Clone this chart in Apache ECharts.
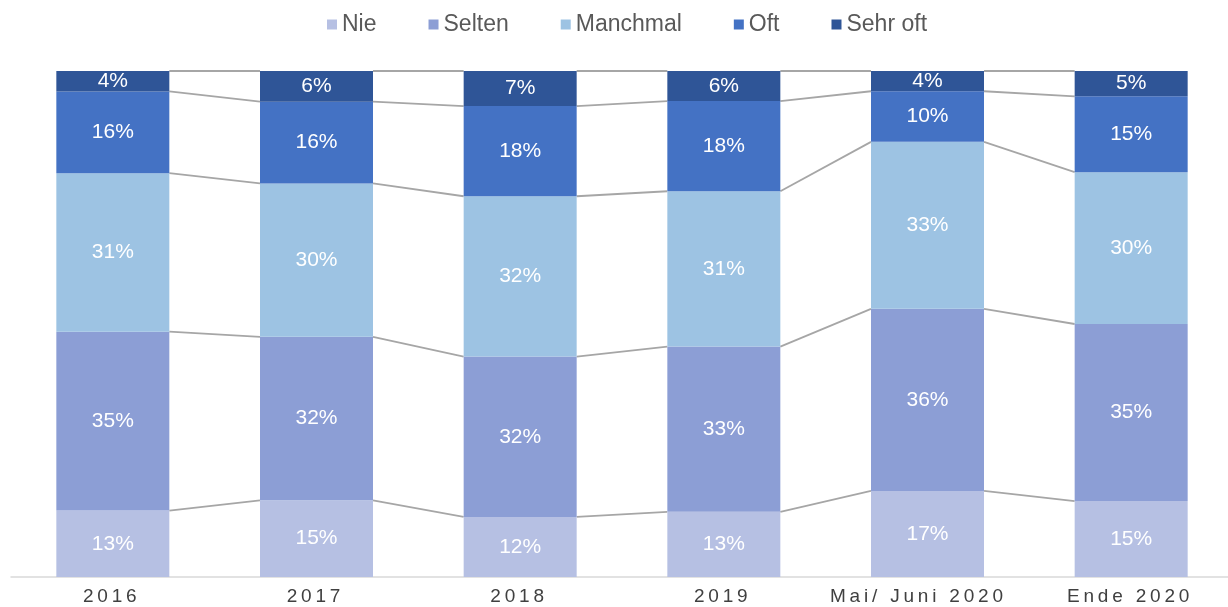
<!DOCTYPE html>
<html>
<head>
<meta charset="utf-8">
<script src="https://cdn.jsdelivr.net/npm/echarts@6/dist/echarts.min.js"></script>
<style>
html,body{margin:0;padding:0;background:#fff;}
#chart{width:1228px;height:607px;}
</style>
</head>
<body>
<div id="chart"></div>
<script>
const categories = ['2016', '2017', '2018', '2019', 'Mai/ Juni 2020', 'Ende 2020'];
const seriesNames = ['Nie', 'Selten', 'Manchmal', 'Oft', 'Sehr oft'];
const nie = [13, 15, 12, 13, 17, 15];
const selten = [35, 32, 32, 33, 36, 35];
const manchmal = [31, 30, 32, 31, 33, 30];
const oft = [16, 16, 18, 18, 10, 15];
const sehrOft = [4, 6, 7, 6, 4, 5];
const colors = ['#B6C0E3', '#8C9ED5', '#9DC3E3', '#4472C4', '#2F5597'];

const raw = [nie, selten, manchmal, oft, sehrOft];
const sums = categories.map((c, i) => raw.reduce((s, arr) => s + arr[i], 0));
// 100% stacked: share of each bar
const shares = raw.map(arr => arr.map((v, i) => v / sums[i] * 100));
// cumulative boundaries per category (top of each segment)
const cumul = categories.map((c, i) => {
  let acc = 0;
  return shares.map(arr => (acc += arr[i]));
});

const BAR_W = 113;
const FONT = 'Liberation Sans, Arial, Helvetica, sans-serif';

const chart = echarts.init(document.getElementById('chart'));
const barSeries = seriesNames.map((name, k) => ({
  name: name,
  type: 'bar',
  stack: 'total',
  barWidth: BAR_W,
  itemStyle: { color: colors[k] },
  label: {
    show: true,
    position: 'inside',
    color: '#ffffff',
    fontFamily: FONT,
    fontSize: 21,
    formatter: p => raw[k][p.dataIndex] + '%'
  },
  data: shares[k]
}));

const connectorSeries = {
  type: 'custom',
  name: 'connectors',
  silent: true,
  z: 1,
  data: categories.slice(0, -1).map((c, i) => [i]),
  renderItem: function (params, api) {
    const i = api.value(0);
    const children = [];
    for (let k = 0; k < seriesNames.length; k++) {
      const a = api.coord([i, cumul[i][k]]);
      const b = api.coord([i + 1, cumul[i + 1][k]]);
      children.push({
        type: 'line',
        shape: { x1: a[0] + BAR_W / 2, y1: a[1], x2: b[0] - BAR_W / 2, y2: b[1] },
        style: { stroke: '#a6a6a6', lineWidth: 1.8 }
      });
    }
    return { type: 'group', children: children };
  }
};

const labelStyle = { color: '#404040', fontSize: 19, fontFamily: FONT };

chart.setOption({
  animation: false,
  backgroundColor: '#ffffff',
  legend: {
    data: seriesNames,
    top: 8,
    left: 322,
    itemWidth: 10,
    itemHeight: 10,
    itemGap: 52,
    icon: 'rect',
    textStyle: {
      color: '#595959',
      fontSize: 23,
      fontFamily: FONT
    }
  },
  grid: { left: 11, width: 1222, top: 71, bottom: 30, containLabel: false, outerBoundsMode: 'none' },
  xAxis: {
    type: 'category',
    data: categories,
    axisLine: { show: true, lineStyle: { color: '#d9d9d9', width: 1.5 } },
    axisTick: { show: false },
    axisLabel: {
      color: '#404040',
      fontSize: 19,
      margin: 10,
      interval: 0,
      fontFamily: FONT,
      formatter: (v, i) => {
        const spaced = v.split('').join('\u2009');
        return (i === 4 ? '{m|' : '{a|') + spaced + '}';
      },
      rich: {
        a: Object.assign({ padding: [0, 6, 0, 0] }, labelStyle),
        m: Object.assign({ padding: [0, 22, 0, 0] }, labelStyle)
      }
    }
  },
  yAxis: {
    type: 'value',
    min: 0,
    max: 100,
    show: false,
    splitLine: { show: false }
  },
  series: barSeries.concat([connectorSeries])
});
</script>
</body>
</html>
